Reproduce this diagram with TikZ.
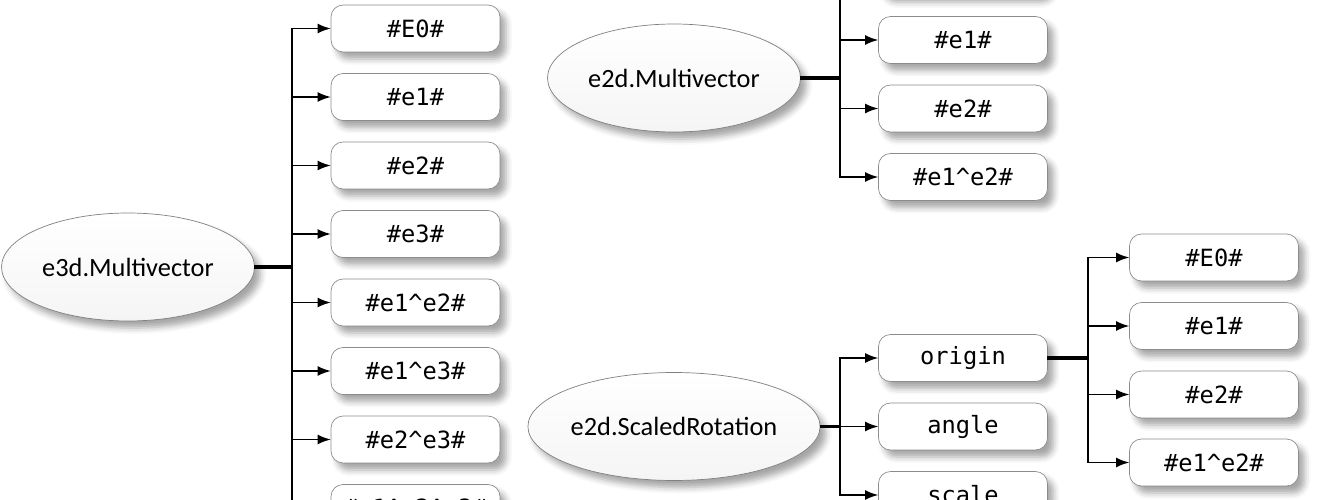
\documentclass[tikz,border=0pt]{standalone}
\usepackage{fontspec}
\setmainfont{Carlito}
\setmonofont{DejaVu Sans Mono}
\usetikzlibrary{arrows.meta,shapes.geometric,shadows.blur}

\begin{document}
\begin{tikzpicture}[x=0.02cm,y=-0.02cm,inner sep=0pt,outer sep=0pt,
classnode/.style={draw=black!50,ellipse,minimum width=5.06cm,minimum height=2.16cm,
  top color=white,bottom color=black!4,font=\fontsize{15}{18}\selectfont,
  blur shadow={shadow xshift=1.2mm,shadow yshift=-1.4mm,shadow blur radius=1.2mm,shadow opacity=35}},
fieldbox/.style={draw=black!45,rectangle,rounded corners=2.4mm,minimum width=3.38cm,minimum height=0.94cm,
  fill=white,font=\ttfamily\fontsize{13.5}{16}\selectfont,
  blur shadow={shadow xshift=1.2mm,shadow yshift=-1.4mm,shadow blur radius=1.2mm,shadow opacity=35}},
trunk/.style={line width=1.9pt},
branch/.style={-{Latex[length=2.7mm,width=2mm]},line width=1.1pt}]

\useasboundingbox (0,0) rectangle (1320,500);
\clip (0,0) rectangle (1320,500);

% e3d.Multivector
\draw (128,267) node[classnode] (e3d) {e3d.Multivector};
\coordinate (j3) at (292,267);
\draw (415.5,28.5) node[fieldbox] (e3dE0) {\#E0\#};
\draw (415.5,97) node[fieldbox] (e3de1) {\#e1\#};
\draw (415.5,165.5) node[fieldbox] (e3de2) {\#e2\#};
\draw (415.5,234) node[fieldbox] (e3de3) {\#e3\#};
\draw (415.5,302.5) node[fieldbox] (e3de12) {\#e1\textasciicircum e2\#};
\draw (415.5,371) node[fieldbox] (e3de13) {\#e1\textasciicircum e3\#};
\draw (415.5,439.5) node[fieldbox] (e3de23) {\#e2\textasciicircum e3\#};
\draw (415.5,508) node[fieldbox] (e3de123) {\#e1\textasciicircum e2\textasciicircum e3\#};

\draw[trunk] (e3d.east) -- (j3);
\draw[branch] (j3) |- (e3dE0.west);
\draw[branch] (j3) |- (e3de1.west);
\draw[branch] (j3) |- (e3de2.west);
\draw[branch] (j3) |- (e3de3.west);
\draw[branch] (j3) |- (e3de12.west);
\draw[branch] (j3) |- (e3de13.west);
\draw[branch] (j3) |- (e3de23.west);
\draw[branch] (j3) |- (e3de123.west);

% e2d.Multivector
\draw (674,78) node[classnode] (mv) {e2d.Multivector};
\coordinate (jmv) at (840,78);
\draw (963,-28.5) node[fieldbox] (mvE0) {\#E0\#};
\draw (963,40) node[fieldbox] (mve1) {\#e1\#};
\draw (963,108.5) node[fieldbox] (mve2) {\#e2\#};
\draw (963,177) node[fieldbox] (mve12) {\#e1\textasciicircum e2\#};

\draw[trunk] (mv.east) -- (jmv);
\draw[branch] (jmv) |- (mvE0.west);
\draw[branch] (jmv) |- (mve1.west);
\draw[branch] (jmv) |- (mve2.west);
\draw[branch] (jmv) |- (mve12.west);

% e2d.ScaledRotation
\draw (674,426.5) node[classnode] (sr) {e2d.ScaledRotation};
\coordinate (jsr) at (840,426.5);
\draw (963,358) node[fieldbox] (origin) {origin};
\draw (963,426.5) node[fieldbox] (angle) {angle};
\draw (963,495) node[fieldbox] (scale) {scale};

\draw[trunk] (sr.east) -- (jsr);
\draw[branch] (jsr) |- (origin.west);
\draw[branch] (jsr) |- (angle.west);
\draw[branch] (jsr) |- (scale.west);

% origin fields
\coordinate (jor) at (1088,358);
\draw (1214,257.5) node[fieldbox] (orE0) {\#E0\#};
\draw (1214,326) node[fieldbox] (ore1) {\#e1\#};
\draw (1214,394.5) node[fieldbox] (ore2) {\#e2\#};
\draw (1214,462.5) node[fieldbox] (ore12) {\#e1\textasciicircum e2\#};

\draw[trunk] (origin.east) -- (jor);
\draw[branch] (jor) |- (orE0.west);
\draw[branch] (jor) |- (ore1.west);
\draw[branch] (jor) |- (ore2.west);
\draw[branch] (jor) |- (ore12.west);
\end{tikzpicture}
\end{document}
